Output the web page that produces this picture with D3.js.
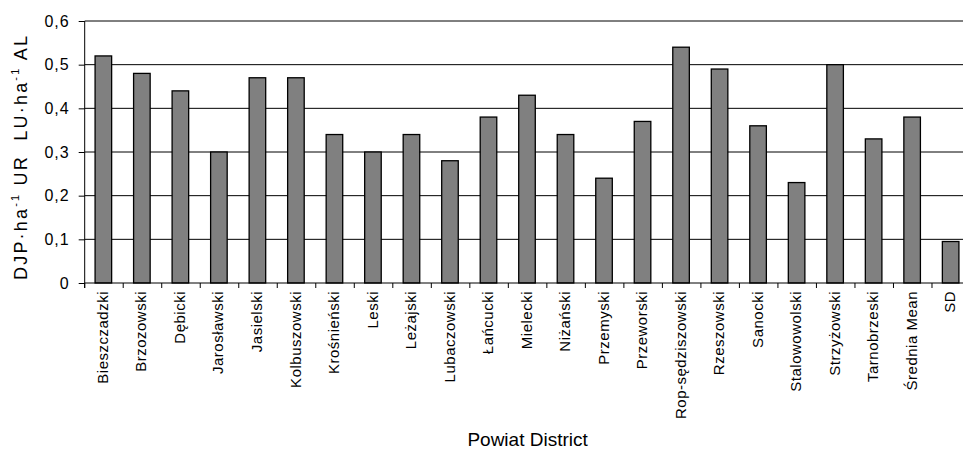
<!DOCTYPE html>
<html>
<head>
<meta charset="utf-8">
<script src="https://cdn.jsdelivr.net/npm/d3@7"></script>
<style>
  body { margin: 0; background: #fff; }
  svg { display: block; font-family: "Liberation Sans", Arial, sans-serif; }
</style>
</head>
<body>
<div id="chart"></div>
<script>
// districts (powiat) of Podkarpackie, plus mean and SD
const districts = ["Bieszczadzki", "Brzozowski", "Dębicki", "Jarosławski", "Jasielski",
  "Kolbuszowski", "Krośnieński", "Leski", "Leżajski", "Lubaczowski", "Łańcucki",
  "Mielecki", "Niżański", "Przemyski", "Przeworski", "Rop-sędziszowski", "Rzeszowski",
  "Sanocki", "Stalowowolski", "Strzyżowski", "Tarnobrzeski", "Średnia Mean", "SD"];
const stocking = [0.52, 0.48, 0.44, 0.30, 0.47, 0.47, 0.34, 0.30, 0.34, 0.28, 0.38,
  0.43, 0.34, 0.24, 0.37, 0.54, 0.49, 0.36, 0.23, 0.50, 0.33, 0.38, 0.095];
const yTicks = [0, 0.1, 0.2, 0.3, 0.4, 0.5, 0.6];

const width = 963, height = 450;
const plotLeft = 84.7, plotRight = 970.5, plotTop = 21, plotBottom = 283;

const svg = d3.select("#chart").append("svg")
    .attr("width", width)
    .attr("height", height);

const x = d3.scaleBand()
    .domain(districts)
    .range([plotLeft, plotRight])
    .padding(0);

const y = d3.scaleLinear()
    .domain([0, 0.6])
    .range([plotBottom, plotTop]);

// gridlines
svg.append("g")
  .selectAll("line")
  .data(yTicks.filter(d => d > 0))
  .join("line")
    .attr("x1", plotLeft)
    .attr("x2", width)
    .attr("y1", d => y(d))
    .attr("y2", d => y(d))
    .attr("stroke", "#000")
    .attr("stroke-width", 1);

// bars
const barW = x.bandwidth() * 0.43;
svg.append("g")
  .selectAll("rect")
  .data(districts)
  .join("rect")
    .attr("x", d => x(d) + (x.bandwidth() - barW) / 2 - 0.6)
    .attr("y", (d, i) => y(stocking[i]))
    .attr("width", barW)
    .attr("height", (d, i) => y(0) - y(stocking[i]))
    .attr("fill", "#808080")
    .attr("stroke", "#000")
    .attr("stroke-width", 1.3);

// y axis
const fmt = d => d === 0 ? "0" : d3.format(".1f")(d).replace(".", ",");
const yAxis = svg.append("g")
    .attr("transform", `translate(${plotLeft},0)`)
    .call(d3.axisLeft(y).tickValues(yTicks).tickSize(6).tickPadding(9).tickFormat(fmt));
yAxis.attr("font-family", null);
yAxis.select(".domain").attr("stroke", "#000").attr("d", `M0,${plotTop}V${plotBottom + 5}`);
yAxis.selectAll(".tick line").attr("stroke", "#000");
yAxis.selectAll(".tick text")
    .attr("font-size", 16)
    .attr("letter-spacing", 1)
    .attr("fill", "#000");

// x axis: baseline and ticks on band edges
svg.append("line")
    .attr("x1", plotLeft).attr("x2", width)
    .attr("y1", y(0)).attr("y2", y(0))
    .attr("stroke", "#000");
svg.append("g")
  .selectAll("line")
  .data(districts)
  .join("line")
    .attr("x1", d => x(d))
    .attr("x2", d => x(d))
    .attr("y1", y(0))
    .attr("y2", y(0) + 5)
    .attr("stroke", "#000");

svg.append("g")
  .selectAll("text")
  .data(districts)
  .join("text")
    .attr("transform", d => `translate(${x(d) + x.bandwidth() / 2 + 4},291) rotate(-90)`)
    .attr("text-anchor", "end")
    .attr("font-size", 15)
    .attr("letter-spacing", 0.5)
    .text(d => d);

// axis titles
svg.append("text")
    .attr("x", (plotLeft + plotRight) / 2)
    .attr("y", 446)
    .attr("text-anchor", "middle")
    .attr("font-size", 19)
    .text("Powiat District");

const yt = svg.append("text")
    .attr("transform", "translate(27,158) rotate(-90)")
    .attr("text-anchor", "middle")
    .attr("font-size", 18)
    .attr("textLength", 244)
    .attr("lengthAdjust", "spacing")
    .style("white-space", "pre");
yt.append("tspan").text("DJP·ha");
yt.append("tspan").attr("font-size", 11).attr("dy", -8).text("-1");
yt.append("tspan").attr("dy", 8).text(" UR  LU·ha");
yt.append("tspan").attr("font-size", 11).attr("dy", -8).text("-1");
yt.append("tspan").attr("dy", 8).text(" AL");
</script>
</body>
</html>
